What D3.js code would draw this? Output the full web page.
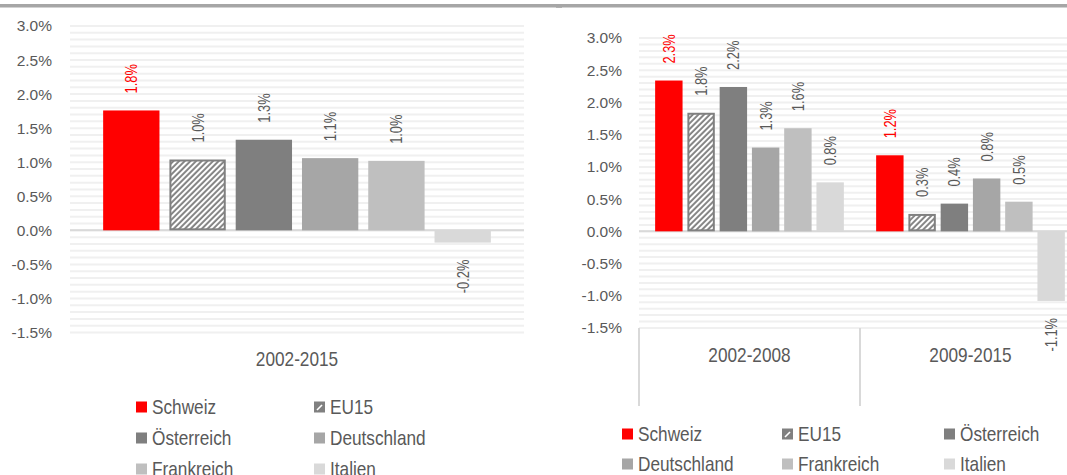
<!DOCTYPE html>
<html>
<head>
<meta charset="utf-8">
<script src="https://cdn.jsdelivr.net/npm/d3@7"></script>
<style>
  body { margin: 0; background: #fff; }
  svg { display: block; font-family: "Liberation Sans", Arial, sans-serif; }
</style>
</head>
<body>
<svg id="chart" width="1067" height="475"></svg>
<script>
// series and values (percent)
var series = ["Schweiz", "EU15", "Österreich", "Deutschland", "Frankreich", "Italien"];
var colors = ["#ff0000", "url(#hatch)", "#7f7f7f", "#a6a6a6", "#bfbfbf", "#d9d9d9"];

var leftCats = ["2002-2015"];
var leftValues = [[1.76, 1.04, 1.33, 1.06, 1.02, -0.18]];

var rightCats = ["2002-2008", "2009-2015"];
var rightValues = [
    [2.34, 1.84, 2.24, 1.30, 1.60, 0.76],
    [1.18, 0.27, 0.43, 0.82, 0.46, -1.08]
];

var yTicks = [-1.5, -1.0, -0.5, 0, 0.5, 1.0, 1.5, 2.0, 2.5, 3.0];

var svg = d3.select("#chart");
var fmt = function (d) { return d.toFixed(1) + "%"; };
var narrow = 0.82; // fake a narrow face by squeezing text horizontally

// hatch pattern for EU15
var defs = svg.append("defs");
var pat = defs.append("pattern")
    .attr("id", "hatch")
    .attr("patternUnits", "userSpaceOnUse")
    .attr("width", 4).attr("height", 4)
    .attr("patternTransform", "rotate(45)");
pat.append("rect").attr("width", 4).attr("height", 4).attr("fill", "#808080");
pat.append("rect").attr("width", 2.1).attr("height", 4).attr("fill", "#fff");

// top rule (cut from page above)
svg.append("rect").attr("x", 0).attr("y", 4).attr("width", 1067).attr("height", 3.5).attr("fill", "#a6a6a6");
svg.append("rect").attr("x", 556).attr("y", 7).attr("width", 6).attr("height", 1).attr("fill", "#b0b0b0");

function drawPanel(opts) {
    var g = svg.append("g");
    var y = d3.scaleLinear().domain([-1.5, 3]).range([opts.yBottom, opts.yTop]);
    var x0 = d3.scaleBand().domain(opts.cats).range([opts.x0, opts.x1]);
    var x1 = d3.scaleBand().domain(series).range([0, x0.bandwidth()])
        .paddingInner(0.15).paddingOuter(0.5);

    // minor gridlines every 0.1%
    g.append("g").selectAll("line")
        .data(y.ticks(45))
        .enter().append("line")
        .attr("x1", opts.x0).attr("x2", opts.x1)
        .attr("y1", function (d) { return y(d); })
        .attr("y2", function (d) { return y(d); })
        .attr("stroke", "#f0f0f0").attr("stroke-width", 2);

    // y axis labels
    var ax = g.append("g")
        .attr("transform", "translate(" + opts.x0 + ",0)")
        .call(d3.axisLeft(y).tickValues(yTicks).tickSize(0).tickPadding(opts.pad).tickFormat(fmt));
    ax.select(".domain").remove();
    ax.selectAll("text").attr("fill", "#595959").style("font-size", "15.5px")
        .style("font-family", "'Liberation Sans', Arial, sans-serif");

    // zero line
    g.append("line")
        .attr("x1", opts.x0).attr("x2", opts.x1)
        .attr("y1", y(0)).attr("y2", y(0))
        .attr("stroke", "#d9d9d9").attr("stroke-width", 2);

    // category separators
    if (opts.catTicks) {
        g.append("g").selectAll("line")
            .data(opts.cats.map(function (c) { return x0(c); }).concat([opts.x1]))
            .enter().append("line")
            .attr("x1", function (d) { return d; }).attr("x2", function (d) { return d; })
            .attr("y1", opts.yBottom).attr("y2", opts.yBottom + 78)
            .attr("stroke", "#d9d9d9").attr("stroke-width", 2);
    }

    var groups = g.append("g").selectAll("g.cat")
        .data(opts.values)
        .enter().append("g")
        .attr("class", "cat")
        .attr("transform", function (d, i) { return "translate(" + x0(opts.cats[i]) + ",0)"; });

    var bars = groups.selectAll("g.bar")
        .data(function (d) { return d.map(function (v, j) { return {v: v, s: series[j], j: j}; }); })
        .enter().append("g").attr("class", "bar");

    bars.append("rect")
        .attr("x", function (d) { return x1(d.s) + (d.j === 1 ? 1 : 0); })
        .attr("y", function (d) { return Math.min(y(d.v), y(0)) + (d.j === 1 ? 1 : 0); })
        .attr("width", function (d) { return x1.bandwidth() - (d.j === 1 ? 2 : 0); })
        .attr("height", function (d) { return Math.abs(y(d.v) - y(0)) - (d.j === 1 ? 2 : 0); })
        .attr("fill", function (d) { return colors[d.j]; })
        .attr("stroke", function (d) { return d.j === 1 ? "#808080" : "none"; })
        .attr("stroke-width", 2);

    // rotated value labels
    bars.append("text")
        .attr("transform", function (d) {
            var cx = x1(d.s) + x1.bandwidth() / 2;
            var cy = d.v >= 0 ? y(d.v) - 17 : y(d.v) + 17;
            return "translate(" + (cx + 6) + "," + cy + ") rotate(-90) scale(0.78,1)";
        })
        .attr("text-anchor", function (d) { return d.v >= 0 ? "start" : "end"; })
        .attr("fill", function (d) { return d.j === 0 ? "#ff0000" : "#595959"; })
        .style("font-size", "16.5px")
        .text(function (d) { return fmt(d.v); });

    // category labels
    g.append("g").selectAll("text")
        .data(opts.cats)
        .enter().append("text")
        .attr("transform", function (d) {
            return "translate(" + (x0(d) + x0.bandwidth() / 2) + "," + opts.catY + ") scale(" + narrow + ",1)";
        })
        .attr("text-anchor", "middle")
        .attr("fill", "#595959")
        .style("font-size", "21px")
        .text(function (d) { return d; });

    // legend
    var leg = g.append("g").selectAll("g")
        .data(series)
        .enter().append("g")
        .attr("transform", function (d, i) {
            var c = i % opts.legCols, r = Math.floor(i / opts.legCols);
            return "translate(" + opts.legX[c] + "," + opts.legY[r] + ")";
        });
    leg.append("rect")
        .attr("x", 0).attr("y", -5.5).attr("width", 11).attr("height", 11)
        .attr("fill", function (d, i) { return i === 1 ? "#808080" : colors[i]; });
    leg.filter(function (d, i) { return i === 1; }).append("line")
        .attr("x1", 3).attr("y1", 3).attr("x2", 8).attr("y2", -2)
        .attr("stroke", "#fff").attr("stroke-width", 1.6);
    leg.append("text")
        .attr("transform", "translate(16," + opts.legDy + ") scale(" + narrow + ",1)")
        .attr("fill", "#595959")
        .style("font-size", "21px")
        .text(function (d) { return d; });
}

drawPanel({
    cats: leftCats, values: leftValues,
    x0: 70, x1: 524, yTop: 26, yBottom: 332.5, pad: 18,
    catY: 366, catTicks: false,
    legCols: 2, legX: [136, 314], legY: [407, 438, 469], legDy: 7
});

drawPanel({
    cats: rightCats, values: rightValues,
    x0: 639, x1: 1081, yTop: 38, yBottom: 328, pad: 17,
    catY: 362, catTicks: true,
    legCols: 3, legX: [622, 782, 944], legY: [434, 464], legDy: 7
});
</script>
</body>
</html>
